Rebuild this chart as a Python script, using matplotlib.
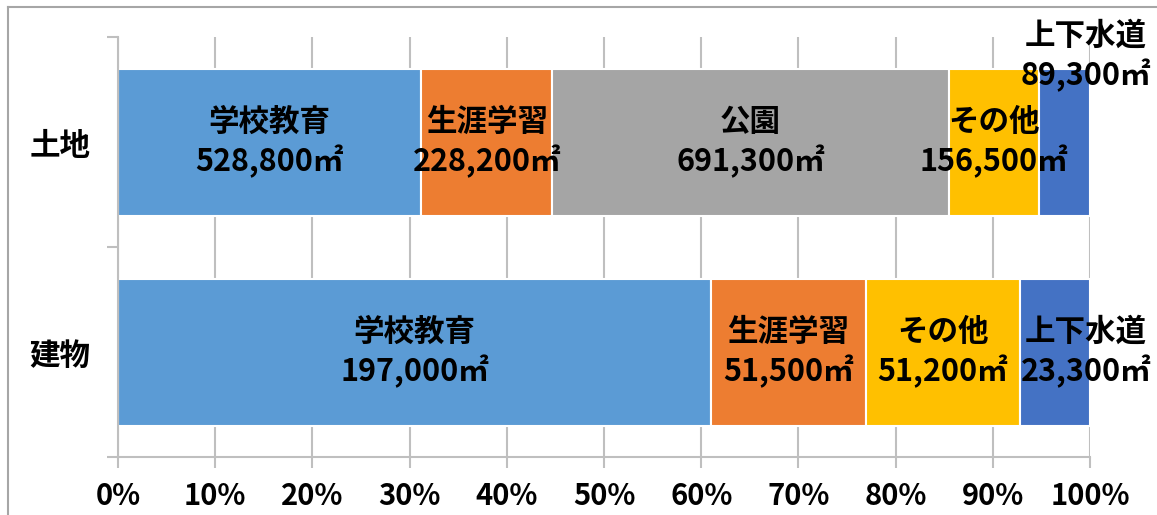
import numpy as np
import matplotlib
matplotlib.use('Agg')
import matplotlib.pyplot as plt
from matplotlib.lines import Line2D

plt.rcParams['font.family'] = ['Noto Sans CJK JP', 'DejaVu Sans']
plt.rcParams['font.weight'] = 'bold'

categories = ['土地', '建物']
segment_names = ['学校教育', '生涯学習', '公園', 'その他', '上下水道']
land_values = [528800, 228200, 691300, 156500, 89300]
building_values = [197000, 51500, 0, 51200, 23300]
colors = ['#5B9BD5', '#ED7D31', '#A5A5A5', '#FFC000', '#4472C4']
xticks = np.arange(0, 101, 10)

# label shifts (pixels) for the narrow last segment
label_shift = {('土地', '上下水道'): (21, 86), ('建物', '上下水道'): (31, 0)}

fig = plt.figure(figsize=(11.57, 5.15), dpi=100)
ax = fig.add_axes([118 / 1157, 58 / 515, 972 / 1157, 420 / 515])

grid_c = '#BFBFBF'
for x in xticks:
    ax.axvline(x, color=grid_c, lw=1.5, zorder=0)

rows = [land_values, building_values]
for i, (cat, vals) in enumerate(zip(categories, rows)):
    vals = np.array(vals, dtype=float)
    pct = vals / vals.sum() * 100
    left = np.concatenate([[0], np.cumsum(pct)[:-1]])
    for name, v, p, l, c in zip(segment_names, vals, pct, left, colors):
        if v == 0:
            continue
        ax.barh(i, p, left=l, height=0.7, color=c, edgecolor='white', lw=1.5, zorder=2)
        dx, dy = label_shift.get((cat, name), (0, 0))
        ax.annotate(f'{name}\n{int(v):,}㎡', (l + p / 2, i), xytext=(dx, dy),
                    textcoords='offset pixels', ha='center', va='center',
                    fontsize=22, fontweight='bold', color='black',
                    linespacing=1.25, zorder=3)

ax.set_xlim(0, 100)
ax.set_ylim(1.5, -0.5)
ax.set_xticks(xticks)
ax.set_xticklabels([f'{x}%' for x in xticks])
ax.set_yticks([0, 1])
ax.set_yticklabels(categories)
ax.set_yticks([-0.5, 0.5, 1.5], minor=True)

for s in ['top', 'right']:
    ax.spines[s].set_visible(False)
for s in ['left', 'bottom']:
    ax.spines[s].set_color(grid_c)
    ax.spines[s].set_linewidth(1.5)

ax.tick_params(axis='x', length=8, width=1.5, color=grid_c, pad=9, labelsize=21)
ax.tick_params(axis='y', which='major', length=0, pad=20, labelsize=22)
ax.tick_params(axis='y', which='minor', length=8, width=1.5, color=grid_c)
for t in ax.get_xticklabels() + ax.get_yticklabels():
    t.set_fontweight('bold')

# outer frame, cut at the right and bottom edges
fx = 8 / 1157
fy = 1 - 7 / 515
fig.add_artist(Line2D([fx, fx], [0, fy], color='#A6A6A6', lw=1.5))
fig.add_artist(Line2D([fx, 1], [fy, fy], color='#A6A6A6', lw=1.5))

fig.savefig('out.png', dpi=100)
